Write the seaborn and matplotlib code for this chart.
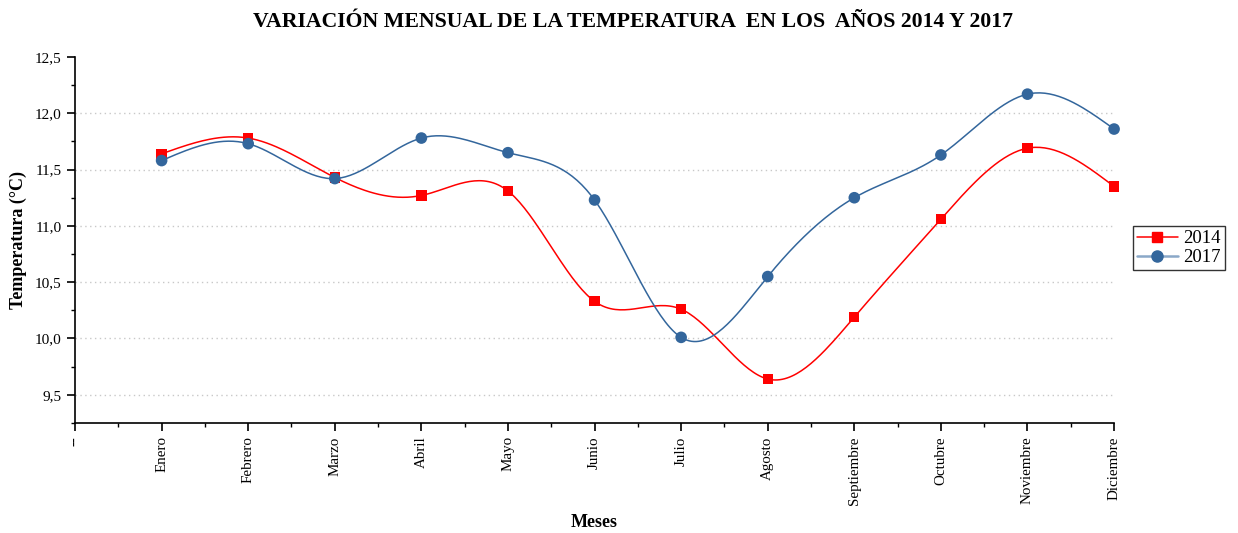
import numpy as np
import pandas as pd
import matplotlib
matplotlib.use("Agg")
import matplotlib.pyplot as plt
from matplotlib.ticker import MultipleLocator, FuncFormatter
from matplotlib.lines import Line2D
import seaborn as sns

# DATA
meses = ["Enero", "Febrero", "Marzo", "Abril", "Mayo", "Junio", "Julio",
         "Agosto", "Septiembre", "Octubre", "Noviembre", "Diciembre"]
temp_2014 = [11.64, 11.78, 11.43, 11.27, 11.31, 10.33, 10.26,
             9.64, 10.19, 11.06, 11.69, 11.35]
temp_2017 = [11.58, 11.73, 11.42, 11.78, 11.65, 11.23, 10.01,
             10.55, 11.25, 11.63, 12.17, 11.86]

pos = np.arange(1, len(meses) + 1)


def natural_spline(x, y, n=400):
    # natural cubic spline through the points (smooth line like Origin)
    x = np.asarray(x, float)
    y = np.asarray(y, float)
    k = len(x)
    h = np.diff(x)
    A = np.zeros((k, k))
    b = np.zeros(k)
    A[0, 0] = A[-1, -1] = 1
    for i in range(1, k - 1):
        A[i, i - 1] = h[i - 1]
        A[i, i] = 2 * (h[i - 1] + h[i])
        A[i, i + 1] = h[i]
        b[i] = 6 * ((y[i + 1] - y[i]) / h[i] - (y[i] - y[i - 1]) / h[i - 1])
    m = np.linalg.solve(A, b)
    xs = np.linspace(x[0], x[-1], n)
    idx = np.clip(np.searchsorted(x, xs) - 1, 0, k - 2)
    x0, x1 = x[idx], x[idx + 1]
    hh = x1 - x0
    t1 = x1 - xs
    t0 = xs - x0
    ys = (m[idx] * t1 ** 3 + m[idx + 1] * t0 ** 3) / (6 * hh) \
        + (y[idx] / hh - m[idx] * hh / 6) * t1 \
        + (y[idx + 1] / hh - m[idx + 1] * hh / 6) * t0
    return xs, ys


sns.set_style("white")
plt.rcParams['font.family'] = ['Liberation Serif', 'DejaVu Serif']
plt.rcParams['text.color'] = 'black'
plt.rcParams['axes.labelcolor'] = 'black'
plt.rcParams['xtick.color'] = 'black'
plt.rcParams['ytick.color'] = 'black'

red = "#ff0000"
blue = "#33669c"

fig = plt.figure(figsize=(12.38, 5.33), dpi=100)
ax = fig.add_axes([0.0606, 0.2065, 0.8393, 0.6866])

for vals, col, mk, ms in [(temp_2014, red, "s", 55), (temp_2017, blue, "o", 70)]:
    xs, ys = natural_spline(pos, vals)
    sns.lineplot(x=xs, y=ys, color=col, lw=1.1, ax=ax, sort=False)
    sns.scatterplot(x=pos, y=vals, color=col, marker=mk, s=ms,
                    edgecolor="none", ax=ax, zorder=3, clip_on=False)

ax.set_xlim(0, 12)
ax.set_ylim(9.25, 12.5)
ax.set_xticks(range(0, 13))
ax.set_xticklabels(["--"] + meses, rotation=90, fontsize=10.8)
ax.xaxis.set_minor_locator(MultipleLocator(0.5))
ax.yaxis.set_major_locator(MultipleLocator(0.5))
ax.yaxis.set_minor_locator(MultipleLocator(0.25))
ax.yaxis.set_major_formatter(FuncFormatter(lambda v, p: f"{v:.1f}".replace(".", ",")))
ax.tick_params(axis="y", labelsize=11)
ax.tick_params(which="major", direction="out", length=6, width=1.2, color="black",
               left=True, bottom=True)
ax.tick_params(which="minor", direction="out", length=3, width=1.0, color="black",
               left=True, bottom=True)

ax.grid(False)
for v in np.arange(9.5, 12.01, 0.5):
    ax.axhline(v, color="#c8c8c8", lw=1, ls=(0, (1, 2.5)), zorder=0)

for s in ["top", "right"]:
    ax.spines[s].set_visible(False)
for s in ["left", "bottom"]:
    ax.spines[s].set_color("black")
    ax.spines[s].set_linewidth(1.2)

ax.set_xlabel("Meses", fontsize=13, fontweight="bold", va="center")
ax.xaxis.set_label_coords(0.5, -0.273)
ax.set_ylabel("Temperatura (°C)", fontsize=13, fontweight="bold", va="center")
ax.yaxis.set_label_coords(-0.055, 0.5)
fig.suptitle("VARIACIÓN MENSUAL DE LA TEMPERATURA  EN LOS  AÑOS 2014 Y 2017",
             fontsize=15.7, fontweight="bold", x=0.511, y=0.958, va="center")

handles = [Line2D([], [], color=red, marker="s", markersize=7, lw=1.1),
           Line2D([], [], color="#8aa8c8", marker="o", markerfacecolor=blue,
                  markeredgecolor=blue, markersize=8, lw=1.8)]
leg = ax.legend(handles, ["2014", "2017"], loc="center left",
                bbox_to_anchor=(1.018, 0.478), fontsize=13.5, frameon=True,
                fancybox=False, handlelength=2.2, handletextpad=0.3,
                borderpad=0.2, labelspacing=0.1, borderaxespad=0)
leg.get_frame().set_edgecolor("black")
leg.get_frame().set_linewidth(1.0)

fig.savefig("out.png", dpi=100)
